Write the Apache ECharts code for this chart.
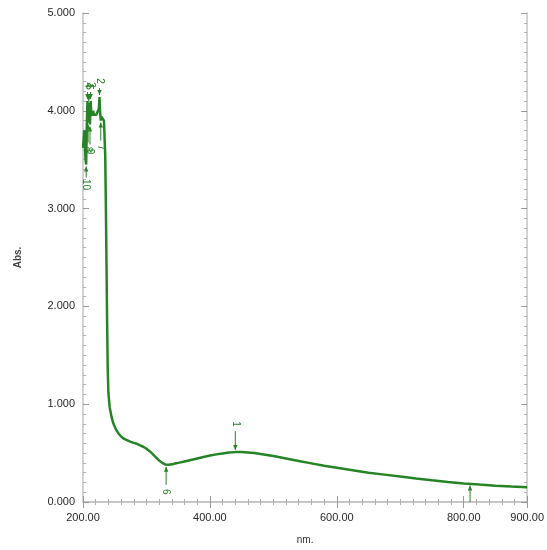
<!DOCTYPE html>
<html><head><meta charset="utf-8">
<script src="https://cdn.jsdelivr.net/npm/echarts@6/dist/echarts.min.js"></script>
<style>html,body{margin:0;padding:0;background:#fff}#c{width:547px;height:550px}</style>
</head><body><div id="c"></div>
<script>
const wavelength = [200,201,202,203,204,205,206,207,208,209,210,211,212,213,214,215,216,217,218,219,220,221,222,223,224,225,226,227,228,229,230,231,232,233,234,235,236,237,238,239,240,242,245,248,252,256,260,265,270,275,280,285,290,295,300,305,310,315,320,325,330,335,340,345,350,360,370,380,390,400,410,420,430,440,450,460,470,480,490,500,520,540,560,580,600,625,650,675,700,725,750,775,800,825,850,875,900];
const absorbance = [3.62,3.70,3.80,3.66,3.50,3.45,3.85,4.10,3.88,4.08,3.95,3.86,4.10,3.98,3.95,3.97,4.00,3.96,3.98,3.97,3.95,3.96,3.98,3.96,3.97,4.02,4.14,3.98,3.90,3.94,3.95,3.93,3.94,3.90,3.88,3.55,3.05,2.45,1.85,1.35,1.12,0.97,0.87,0.80,0.74,0.70,0.67,0.645,0.63,0.615,0.605,0.595,0.58,0.565,0.545,0.52,0.49,0.455,0.425,0.40,0.383,0.38,0.385,0.393,0.40,0.415,0.43,0.445,0.46,0.475,0.487,0.497,0.505,0.51,0.51,0.507,0.50,0.49,0.48,0.47,0.445,0.42,0.395,0.37,0.35,0.325,0.30,0.28,0.26,0.24,0.222,0.205,0.19,0.178,0.167,0.158,0.15];
const markerLabels = ['1','2','3','4','5','6','7','8','9','10','11'];
const markerNm     = [440,226,212,207,209,331,228,208,211,205,810];
const markerAbs    = [0.51,4.14,4.10,4.10,4.08,0.38,3.90,3.88,3.86,3.45,0.19];
const markerKind   = ['peak','peak','peak','peak','peak','valley','valley','valley','valley','valley','valley'];
const xTicks = [200,400,600,800,900];
const yTicks = [0,1,2,3,4,5];

const green = '#268326';
const font = "'Liberation Sans', Arial, sans-serif";
const chart = echarts.init(document.getElementById('c'));
const lineData = wavelength.map((w,i)=>[w,absorbance[i]]);
const markData = markerNm.map((w,i)=>[w,markerAbs[i],i]);

const tickStyle = {show:true, inside:true, length:6, lineStyle:{color:'#9a9a9a', width:1}};
const minorStyle = {show:true, splitNumber:10, length:3, lineStyle:{color:'#b0b0b0', width:1}};
const lineStyleAx = {show:true, lineStyle:{color:'#c4c4c4', width:1.5}};

chart.setOption({
  animation:false,
  backgroundColor:'#fff',
  grid:{left:83, right:19, top:13, bottom:47, containLabel:false},
  xAxis:[{
    type:'value', min:xTicks[0], max:xTicks[xTicks.length-1], interval:200,
    axisLine:lineStyleAx, axisTick:tickStyle, minorTick:minorStyle,
    splitLine:{show:false}, minorSplitLine:{show:false},
    axisLabel:{color:'#2a2a2a', fontFamily:font, fontSize:11, margin:10, formatter:v=>v.toFixed(2), showMaxLabel:true},
    name:'nm.', nameLocation:'middle', nameGap:33,
    nameTextStyle:{color:'#333', fontFamily:font, fontSize:10}
  },{
    type:'value', position:'top', min:xTicks[0], max:xTicks[xTicks.length-1], interval:200,
    axisLine:lineStyleAx, axisTick:tickStyle, minorTick:minorStyle,
    axisLabel:{show:false}, splitLine:{show:false}
  }],
  yAxis:[{
    type:'value', min:yTicks[0], max:yTicks[yTicks.length-1], interval:1,
    axisLine:lineStyleAx, axisTick:tickStyle, minorTick:minorStyle,
    splitLine:{show:false}, minorSplitLine:{show:false},
    axisLabel:{color:'#2a2a2a', fontFamily:font, fontSize:11, margin:8, formatter:v=>v.toFixed(3)},
    name:'Abs.', nameLocation:'middle', nameGap:60, nameRotate:90,
    nameTextStyle:{color:'#444', fontFamily:font, fontSize:10, fontWeight:'bold'}
  },{
    type:'value', position:'right', min:yTicks[0], max:yTicks[yTicks.length-1], interval:1,
    axisLine:lineStyleAx, axisTick:tickStyle, minorTick:minorStyle,
    axisLabel:{show:false}, splitLine:{show:false}
  }],
  series:[{
    type:'line', data:lineData, showSymbol:false, symbol:'none',
    lineStyle:{color:green, width:2.5}, z:3
  },{
    type:'custom', data:markData, clip:true, z:4,
    renderItem:function(params, api){
      const w = api.value(0), a = api.value(1), i = api.value(2);
      const p = api.coord([w,a]);
      const up = markerKind[i]==='peak';
      const dir = up ? -1 : 1;
      const len = up ? (a>3 ? 9 : 21) : (a>3.7 ? 20 : (a>3 ? 13 : 20));
      const y0 = p[1] + dir*2, y1 = p[1] + dir*len;
      return {type:'group', children:[
        {type:'line', shape:{x1:p[0], y1:y0, x2:p[0], y2:y1}, style:{stroke:green, lineWidth:1}},
        {type:'polygon', shape:{points:[[p[0],y0],[p[0]-2.2,y0+dir*5],[p[0]+2.2,y0+dir*5]]}, style:{fill:green}},
        {type:'text', x:p[0], y:y1+dir*7, rotation:-Math.PI/2,
         style:{text:markerLabels[i], fill:green, font:'10px '+font, align:'center', verticalAlign:'middle'}}
      ]};
    }
  }]
});
</script></body></html>
